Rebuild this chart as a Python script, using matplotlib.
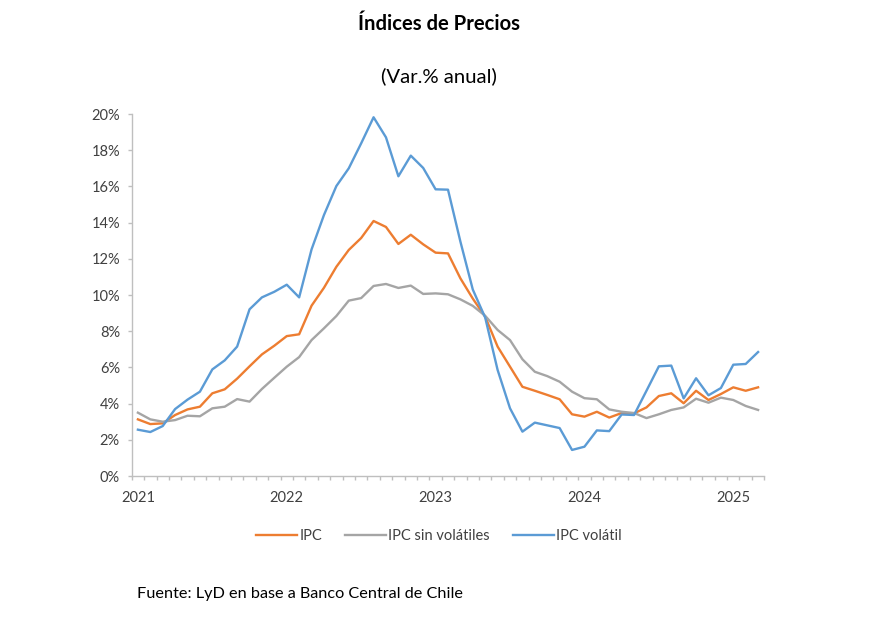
import matplotlib
matplotlib.use("Agg")
import matplotlib.pyplot as plt
from matplotlib.ticker import FixedLocator, FuncFormatter

plt.rcParams['font.family'] = ['Lato', 'DejaVu Sans']

# Monthly data, Jan 2021 .. Mar 2025 (annual % change)
ipc = [3.13, 2.87, 2.91, 3.37, 3.68, 3.83, 4.57, 4.79, 5.38, 6.06, 6.72, 7.20,
       7.73, 7.83, 9.41, 10.40, 11.56, 12.49, 13.15, 14.09, 13.76, 12.82, 13.33, 12.80,
       12.34, 12.30, 10.92, 9.80, 8.80, 7.15, 6.04, 4.93, 4.71, 4.48, 4.24, 3.41,
       3.28, 3.55, 3.23, 3.48, 3.46, 3.79, 4.42, 4.57, 4.02, 4.71, 4.20, 4.53,
       4.90, 4.71, 4.90]
ipc_sin_volatiles = [3.50, 3.13, 3.00, 3.09, 3.33, 3.30, 3.74, 3.83, 4.25, 4.11, 4.81, 5.43,
                     6.04, 6.57, 7.51, 8.16, 8.84, 9.69, 9.83, 10.50, 10.61, 10.39, 10.52, 10.06,
                     10.09, 10.04, 9.76, 9.40, 8.85, 8.07, 7.51, 6.45, 5.76, 5.52, 5.21, 4.66,
                     4.30, 4.24, 3.68, 3.55, 3.48, 3.20, 3.41, 3.65, 3.79, 4.27, 4.05, 4.33,
                     4.20, 3.87, 3.65]
ipc_volatil = [2.56, 2.43, 2.76, 3.70, 4.22, 4.66, 5.89, 6.39, 7.15, 9.21, 9.87, 10.18,
               10.57, 9.87, 12.52, 14.42, 16.02, 17.00, 18.38, 19.82, 18.71, 16.56, 17.70, 17.02,
               15.84, 15.82, 12.95, 10.30, 8.75, 5.86, 3.74, 2.45, 2.95, 2.80, 2.65, 1.44,
               1.62, 2.52, 2.48, 3.40, 3.37, 4.71, 6.06, 6.10, 4.29, 5.40, 4.46, 4.86,
               6.15, 6.19, 6.85]
years = ["2021", "2022", "2023", "2024", "2025"]

x = list(range(len(ipc)))

fig = plt.figure(figsize=(8.78, 6.22), dpi=100)
ax = fig.add_axes([0.150, 0.2347, 0.7205, 0.582])

c_or = "#ED7D31"
c_gr = "#A5A5A5"
c_bl = "#5B9BD5"
lw = 1.7
ax.plot(x, ipc, color=c_or, lw=lw, label="IPC", solid_joinstyle="round")
ax.plot(x, ipc_sin_volatiles, color=c_gr, lw=lw, label="IPC sin volátiles", solid_joinstyle="round")
ax.plot(x, ipc_volatil, color=c_bl, lw=lw, label="IPC volátil", solid_joinstyle="round")

ax.set_xlim(-0.5, len(x) - 0.5)
ax.set_ylim(0, 20)

spine_c = "#BFBFBF"
for s in ["top", "right"]:
    ax.spines[s].set_visible(False)
for s in ["left", "bottom"]:
    ax.spines[s].set_color(spine_c)
    ax.spines[s].set_linewidth(1.0)

ax.yaxis.set_major_locator(FixedLocator(list(range(0, 21, 2))))
ax.yaxis.set_major_formatter(FuncFormatter(lambda v, p: f"{int(round(v))}%"))
ax.tick_params(axis="y", colors=spine_c, labelcolor="#404040", labelsize=10.5, length=3, width=1.0, pad=5.5)

ax.xaxis.set_major_locator(FixedLocator([i * 12 for i in range(len(years))]))
ax.set_xticklabels(years)
ax.xaxis.set_minor_locator(FixedLocator([i - 0.5 for i in range(len(x) + 1)]))
ax.tick_params(axis="x", which="major", length=0, labelcolor="#404040", labelsize=10.5, pad=11)
ax.tick_params(axis="x", which="minor", length=3, width=1.0, colors=spine_c)

fig.text(0.5, 0.962, "Índices de Precios", ha="center", va="center", fontsize=14.6, fontweight="bold", color="#000000")
fig.text(0.5, 0.877, "(Var.% anual)", ha="center", va="center", fontsize=14.6, color="#000000")

leg = fig.legend(loc="center", bbox_to_anchor=(0.5, 0.138), ncol=3, frameon=False,
                 fontsize=10.5, handlelength=2.8, columnspacing=1.6, handletextpad=0.15)
for t in leg.get_texts():
    t.set_color("#404040")

fig.text(137 / 878, 1 - 594 / 622, "Fuente: LyD en base a Banco Central de Chile", ha="left", va="center",
         fontsize=11.7, color="#000000")

fig.savefig("out.png", dpi=100)
